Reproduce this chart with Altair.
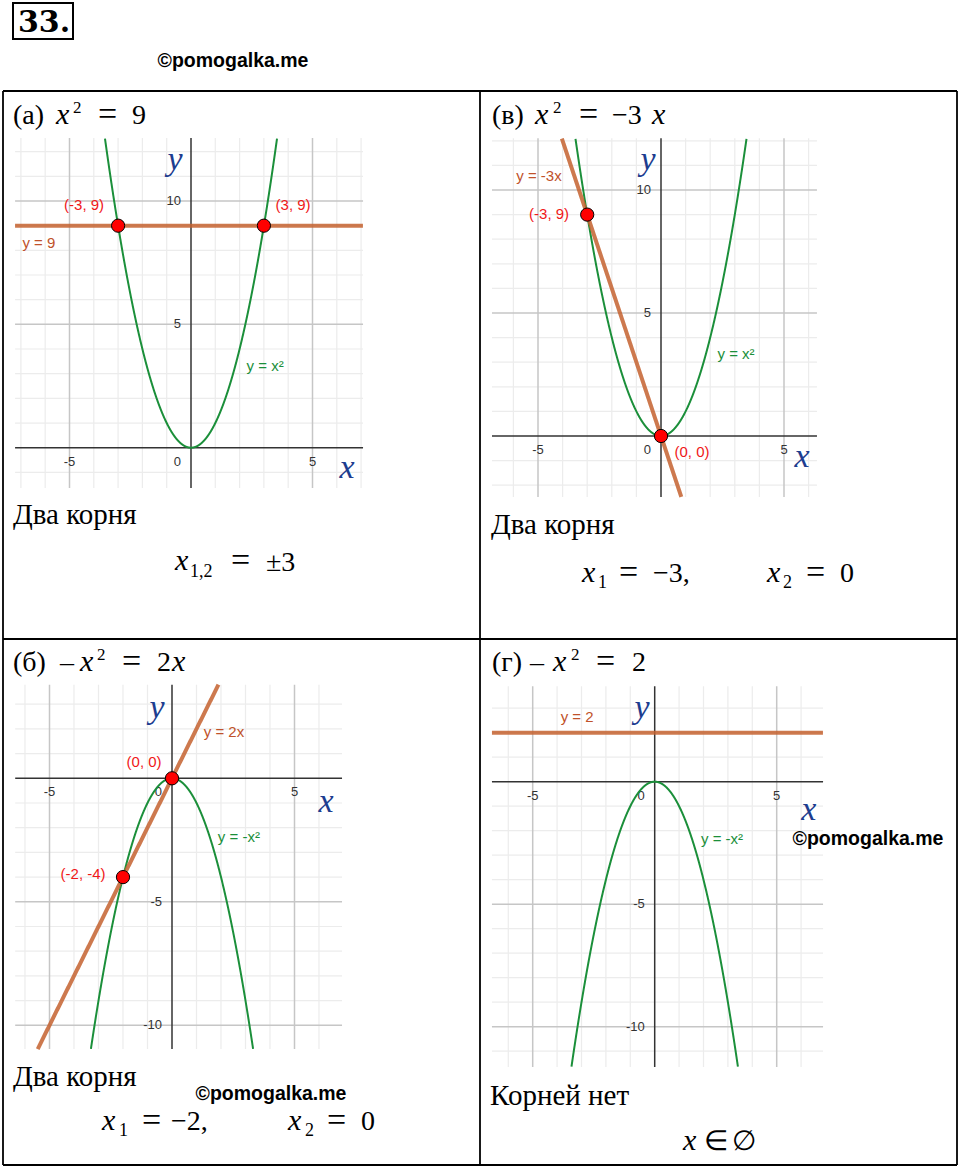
import math
import altair as alt
import pandas as pd

SERIF = "Liberation Serif"
SANS = "Liberation Sans"
GREEN = "#1b8f3a"
ORANGE = "#c4612f"
BROWN_TXT = "#c0522a"
RED = "#ff0000"
RED_TXT = "#f01818"
AXIS_BLUE = "#1d3d8f"
MINOR = "#ececec"
MAJOR = "#c6c6c6"
AXIS = "#333333"

# ---------------- data ----------------
TICK_X = [-5, 5]

# (a) x^2 = 9
A_CURVES = ["datum.x*datum.x", "9"]
A_PTS_X = [-3, 3]
A_PTS_Y = [9, 9]
A_LABELS = ["(-3, 9)", "(3, 9)", "y = 9", "y = x²"]
A_TICK_Y = [5, 10]

# (в) x^2 = -3x
V_CURVES = ["datum.x*datum.x", "-3*datum.x"]
V_PTS_X = [-3, 0]
V_PTS_Y = [9, 0]
V_LABELS = ["y = -3x", "(-3, 9)", "(0, 0)", "y = x²"]
V_TICK_Y = [5, 10]

# (б) -x^2 = 2x
B_CURVES = ["-datum.x*datum.x", "2*datum.x"]
B_PTS_X = [0, -2]
B_PTS_Y = [0, -4]
B_LABELS = ["y = 2x", "(0, 0)", "(-2, -4)", "y = -x²"]
B_TICK_Y = [-5, -10]

# (г) -x^2 = 2
G_CURVES = ["-datum.x*datum.x", "2"]
G_PTS_X = []
G_PTS_Y = []
G_LABELS = ["y = 2", "y = -x²"]
G_TICK_Y = [-5, -10]

# ---------------- layout ----------------
CW, CH = 960, 1168
# x0, y0 (abs px of origin), px per unit x, y, graph extent xmin, xmax, ymin, ymax
GEO = {
    "a": (191, 447.7, 24.3, 24.67, -7.24, 7.08, -1.63, 12.55),
    "v": (661, 436, 24.6, 24.6, -6.87, 6.34, -2.48, 12.1),
    "b": (172, 778.3, 24.5, 24.7, -6.4, 6.94, -10.96, 3.79),
    "g": (654.7, 781.7, 24.4, 24.5, -6.67, 6.9, -11.64, 3.9),
}
LBL_POS = {
    "a": [(-4.4, 9.84, RED_TXT), (4.2, 9.84, RED_TXT), (-6.26, 8.3, BROWN_TXT), (3.05, 3.31, GREEN)],
    "v": [(-4.96, 10.57, BROWN_TXT), (-4.55, 9.02, RED_TXT), (1.26, -0.65, RED_TXT), (3.05, 3.33, GREEN)],
    "b": [(2.12, 1.87, BROWN_TXT), (-1.14, 0.66, RED_TXT), (-3.63, -3.88, RED_TXT), (2.73, -2.38, GREEN)],
    "g": [(-3.18, 2.64, BROWN_TXT), (2.76, -2.34, GREEN)],
}
AXIS_LETTERS = {
    "a": ((-0.66, 11.66), (6.42, -0.82)),
    "v": ((-0.53, 11.22), (5.73, -0.85)),
    "b": ((-0.61, 2.85), (6.29, -0.96)),
    "g": ((-0.52, 3.0), (6.32, -1.16)),
}
# text pieces: (text, abs x, abs baseline y, size, style)
TEXTS = {
    "a": [("(a)", 13, 124, 28, "normal"), ("x", 56, 124, 30, "italic"), ("2", 73, 113, 17, "normal"),
          ("=", 98, 125, 34, "normal"), ("9", 132, 124, 28, "normal"),
          ("Два корня", 13, 524, 29, "normal"),
          ("x", 175, 570, 30, "italic"), ("1,2", 190, 577, 18, "normal"),
          ("=", 231, 571, 34, "normal"), ("±3", 266, 571, 28, "normal")],
    "v": [("(в)", 492, 124, 28, "normal"), ("x", 535, 124, 30, "italic"), ("2", 553, 113, 17, "normal"),
          ("=", 579, 125, 34, "normal"), ("−3", 612, 124, 28, "normal"), ("x", 652, 124, 30, "italic"),
          ("Два корня", 491, 534, 29, "normal"),
          ("x", 582, 582, 30, "italic"), ("1", 598, 588, 18, "normal"), ("=", 619, 583, 34, "normal"),
          ("−3,", 653, 582, 28, "normal"), ("x", 767, 582, 30, "italic"), ("2", 783, 588, 18, "normal"),
          ("=", 806, 583, 34, "normal"), ("0", 840, 582, 28, "normal")],
    "b": [("(б)", 13, 671, 28, "normal"), ("–", 60, 671, 28, "normal"), ("x", 80, 671, 30, "italic"),
          ("2", 97, 660, 17, "normal"), ("=", 122, 672, 34, "normal"), ("2", 157, 671, 28, "normal"),
          ("x", 172, 671, 30, "italic"),
          ("Два корня", 13, 1086, 29, "normal"),
          ("x", 102, 1130, 30, "italic"), ("1", 119, 1136, 18, "normal"), ("=", 142, 1131, 34, "normal"),
          ("−2,", 171, 1130, 28, "normal"), ("x", 288, 1130, 30, "italic"), ("2", 305, 1136, 18, "normal"),
          ("=", 327, 1131, 34, "normal"), ("0", 361, 1130, 28, "normal")],
    "g": [("(г)", 492, 671, 28, "normal"), ("–", 530, 671, 28, "normal"), ("x", 553, 671, 30, "italic"),
          ("2", 571, 660, 17, "normal"), ("=", 596, 672, 34, "normal"), ("2", 632, 671, 28, "normal"),
          ("Корней нет", 490, 1105, 29, "normal"),
          ("x", 683, 1150, 30, "italic"), ("∈", 704, 1150, 28, "normal"), ("∅", 732, 1150, 28, "normal")],
}
WATERMARKS = [(233, 67), (271, 1100), (868, 845)]
# table borders: (x1, y1, x2, y2)
BORDERS = [(3, 91, 957, 91), (3, 639, 957, 639), (3, 1165, 957, 1165),
           (3, 91, 3, 1165), (480, 91, 480, 1165), (957, 91, 957, 1165)]

ONE = pd.DataFrame({"k": [0]})


def txt(s, x, y, size, style="normal", font=SERIF, weight="normal", color="black",
        align="left", baseline="alphabetic"):
    return alt.Chart(ONE).mark_text(
        text=s, fontSize=size, fontStyle=style, font=font, fontWeight=weight,
        color=color, align=align, baseline=baseline
    ).encode(x=alt.value(x), y=alt.value(y))


def panel(key, curves, pts_x, pts_y, labels, ticks_y):
    x0, y0, ux, uy, xmin, xmax, ymin, ymax = GEO[key]
    sx = alt.Scale(domain=[-x0 / ux, (CW - x0) / ux], zero=False, nice=False)
    sy = alt.Scale(domain=[(y0 - CH) / uy, y0 / uy], zero=False, nice=False)

    def X(f):
        return alt.X(f, scale=sx, axis=None)

    def Y(f):
        return alt.Y(f, scale=sy, axis=None)

    def vr(vals, color, w):
        df = pd.DataFrame({"v": list(vals)})
        df["lo"] = ymin
        df["hi"] = ymax
        return alt.Chart(df).mark_rule(color=color, strokeWidth=w).encode(
            x=X("v:Q"), y=Y("lo:Q"), y2="hi:Q")

    def hr(vals, color, w):
        df = pd.DataFrame({"v": list(vals)})
        df["lo"] = xmin
        df["hi"] = xmax
        return alt.Chart(df).mark_rule(color=color, strokeWidth=w).encode(
            y=Y("v:Q"), x=X("lo:Q"), x2="hi:Q")

    xs = list(range(math.ceil(xmin), math.floor(xmax) + 1))
    ys = list(range(math.ceil(ymin), math.floor(ymax) + 1))
    layers = [
        vr([v for v in xs if v % 5], MINOR, 1.2),
        hr([v for v in ys if v % 5], MINOR, 1.2),
        vr([v for v in xs if v % 5 == 0 and v != 0], MAJOR, 1.5),
        hr([v for v in ys if v % 5 == 0 and v != 0], MAJOR, 1.5),
        vr([0], AXIS, 1.5),
        hr([0], AXIS, 1.5),
    ]
    xt = pd.DataFrame({"v": TICK_X, "z": 0, "t": [str(v) for v in TICK_X]})
    layers.append(alt.Chart(xt).mark_text(font=SANS, fontSize=13, color=AXIS, dy=14, align="center",
                                          baseline="middle").encode(x=X("v:Q"), y=Y("z:Q"), text="t:N"))
    zt = pd.DataFrame({"v": [0], "z": [0], "t": ["0"]})
    layers.append(alt.Chart(zt).mark_text(font=SANS, fontSize=13, color=AXIS, dy=14, dx=-10, align="right",
                                          baseline="middle").encode(x=X("v:Q"), y=Y("z:Q"), text="t:N"))
    yt = pd.DataFrame({"v": ticks_y, "z": 0, "t": [str(v) for v in ticks_y]})
    layers.append(alt.Chart(yt).mark_text(font=SANS, fontSize=13, color=AXIS, dx=-10, align="right",
                                          baseline="middle").encode(x=X("z:Q"), y=Y("v:Q"), text="t:N"))
    colors = [GREEN, ORANGE]
    widths = [2, 4]
    opac = [1, 0.85]
    for expr, col, w, op in zip(curves, colors, widths, opac):
        layers.append(
            alt.Chart(alt.sequence(xmin, xmax, 0.005, as_="x"))
            .transform_calculate(y=expr)
            .transform_filter(f"datum.y >= {ymin} && datum.y <= {ymax}")
            .mark_line(color=col, strokeWidth=w, opacity=op)
            .encode(x=X("x:Q"), y=Y("y:Q"))
        )
    if pts_x:
        pdf = pd.DataFrame({"x": pts_x, "y": pts_y})
        layers.append(alt.Chart(pdf).mark_circle(size=175, color=RED, opacity=1, stroke="black",
                                                 strokeWidth=1).encode(x=X("x:Q"), y=Y("y:Q")))
    pos = LBL_POS[key]
    ldf = pd.DataFrame({"t": labels, "x": [p[0] for p in pos], "y": [p[1] for p in pos],
                        "c": [p[2] for p in pos]})
    layers.append(alt.Chart(ldf).mark_text(font=SANS, fontSize=15, align="center", baseline="middle").encode(
        x=X("x:Q"), y=Y("y:Q"), text="t:N", color=alt.Color("c:N", scale=None)))
    (yx, yy), (xx, xy) = AXIS_LETTERS[key]
    adf = pd.DataFrame({"t": ["y", "x"], "x": [yx, xx], "y": [yy, xy]})
    layers.append(alt.Chart(adf).mark_text(font=SERIF, fontSize=34, fontStyle="italic", color=AXIS_BLUE,
                                           align="center", baseline="middle").encode(
        x=X("x:Q"), y=Y("y:Q"), text="t:N"))
    return alt.layer(*layers)


A = panel("a", A_CURVES, A_PTS_X, A_PTS_Y, A_LABELS, A_TICK_Y)
V = panel("v", V_CURVES, V_PTS_X, V_PTS_Y, V_LABELS, V_TICK_Y)
B = panel("b", B_CURVES, B_PTS_X, B_PTS_Y, B_LABELS, B_TICK_Y)
G = panel("g", G_CURVES, G_PTS_X, G_PTS_Y, G_LABELS, G_TICK_Y)

decor = []
for x1, y1, x2, y2 in BORDERS:
    decor.append(alt.Chart(ONE).mark_rule(color="black", strokeWidth=1.8).encode(
        x=alt.value(x1), y=alt.value(y1), x2=alt.value(x2), y2=alt.value(y2)))
decor.append(alt.Chart(ONE).mark_rect(fill="white", fillOpacity=0, stroke="black", strokeWidth=2).encode(
    x=alt.value(13), x2=alt.value(73), y=alt.value(3), y2=alt.value(39)))
decor.append(txt("33.", 18, 32, 30, font="DejaVu Serif", weight="bold"))
for wx, wy in WATERMARKS:
    decor.append(txt("©pomogalka.me", wx, wy, 19.5, font=SANS, weight="bold", align="center"))
for key in ["a", "v", "b", "g"]:
    for s, ax, ay, size, style in TEXTS[key]:
        decor.append(txt(s, ax, ay, size, style))

chart = alt.layer(A, V, B, G, *decor).resolve_scale(
    x="independent", y="independent"
).properties(
    width=CW, height=CH, padding=0, background="white",
    autosize=alt.AutoSizeParams(type="none"),
).configure_view(stroke=None)

chart.save("out.html", embed_options={"renderer": "svg", "actions": False})
